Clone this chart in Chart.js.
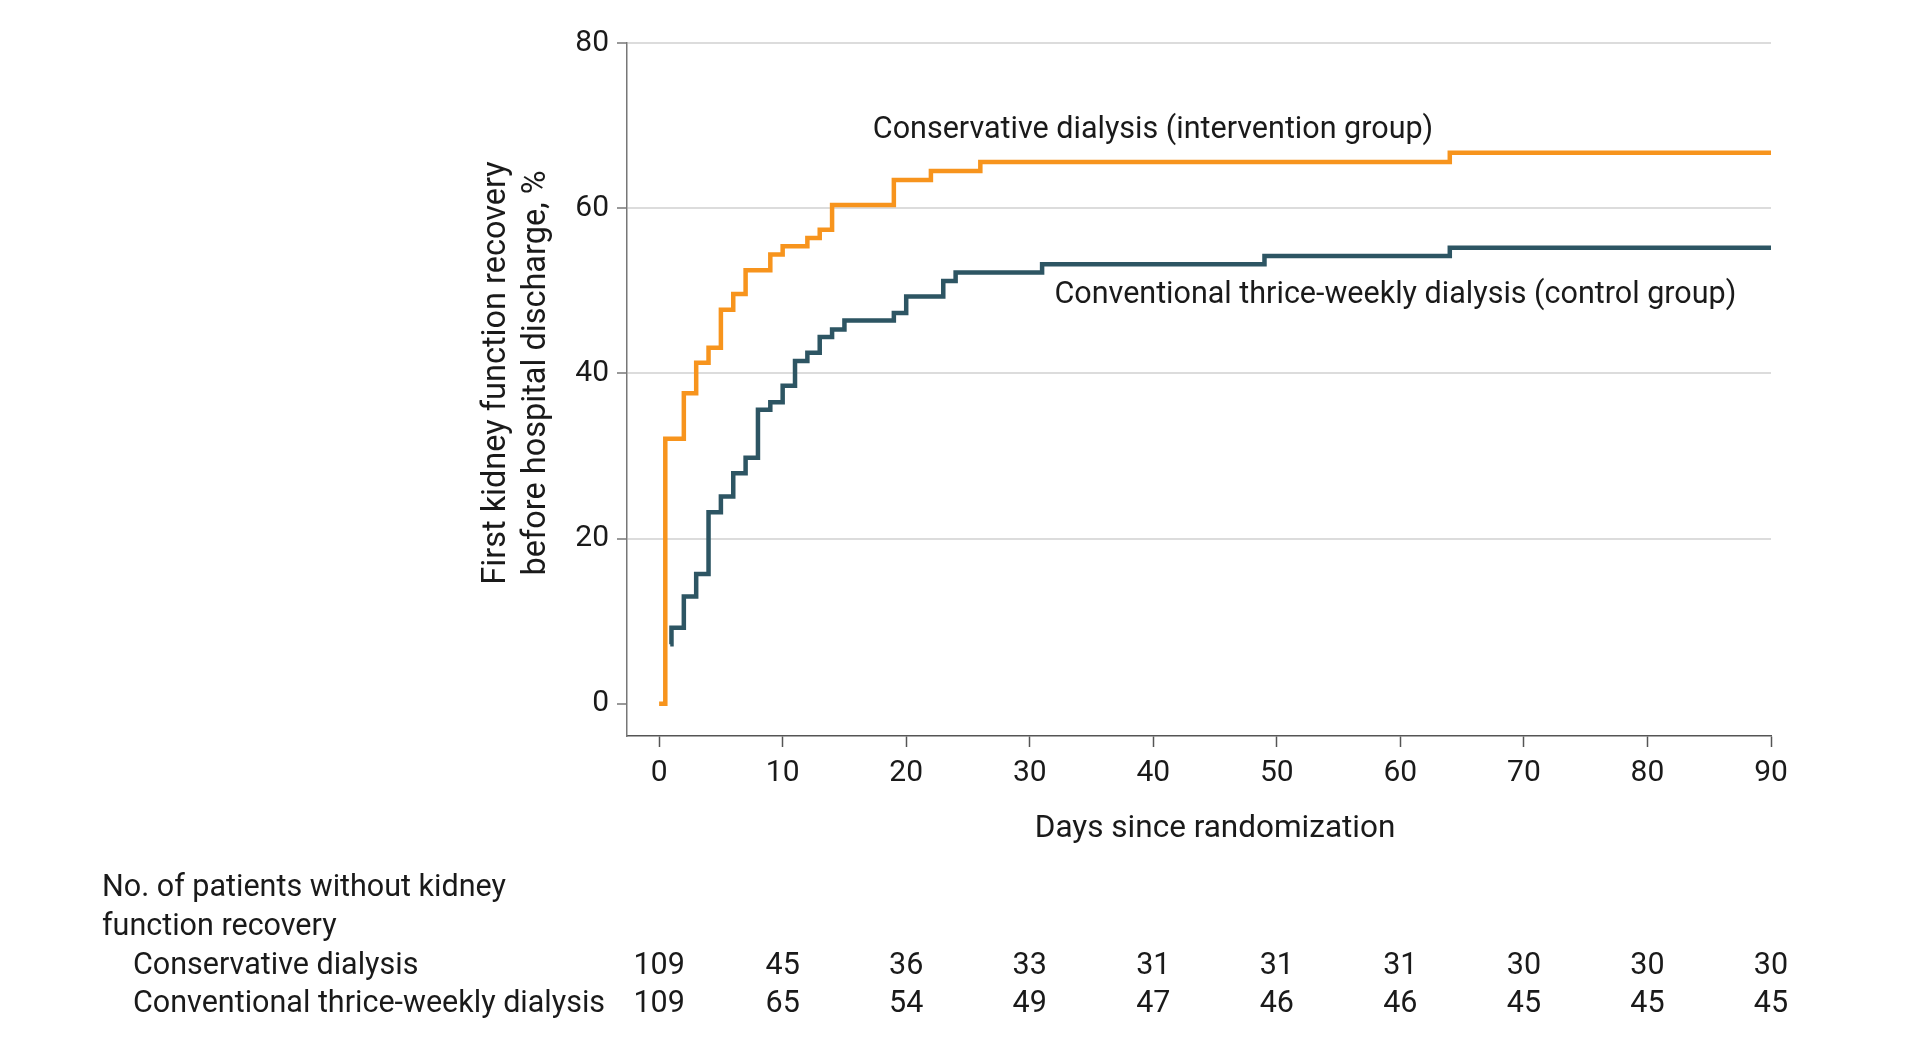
<!DOCTYPE html>
<html>
<head>
<meta charset="utf-8">
<script src="https://cdn.jsdelivr.net/npm/chart.js@4.4.1/dist/chart.umd.min.js"></script>
<style>
  html, body { margin: 0; padding: 0; background: #fff; }
  canvas { display: block; }
</style>
</head>
<body>
<canvas id="km" width="1920" height="1058"></canvas>
<script>
// Kaplan-Meier style cumulative recovery
const consDays = [0, 0.5, 2, 3, 4, 5, 6, 7, 9, 10, 12, 13, 14, 19, 22, 26, 64, 90];
const consPct  = [0, 32.1, 37.6, 41.3, 43.1, 47.7, 49.6, 52.5, 54.4, 55.4, 56.4, 57.4, 60.4, 63.4, 64.5, 65.6, 66.7, 66.7];

const convDays = [0.9, 1, 2, 3, 4, 5, 6, 7, 8, 9, 10, 11, 12, 13, 14, 15, 19, 20, 23, 24, 31, 49, 64, 90];
const convPct  = [7.2, 9.2, 13.0, 15.7, 23.2, 25.1, 27.9, 29.8, 35.6, 36.5, 38.5, 41.5, 42.5, 44.4, 45.3, 46.4, 47.3, 49.3, 51.2, 52.2, 53.2, 54.2, 55.2, 55.2];

const xTicks = [0, 10, 20, 30, 40, 50, 60, 70, 80, 90];
const yTicks = [0, 20, 40, 60, 80];

// number at risk table
const riskDays = [0, 10, 20, 30, 40, 50, 60, 70, 80, 90];
const riskCons = [109, 45, 36, 33, 31, 31, 31, 30, 30, 30];
const riskConv = [109, 65, 54, 49, 47, 46, 46, 45, 45, 45];

const FONT = 'Roboto, "Open Sans", sans-serif';
const TEXT = '#1a1a1a';
const ORANGE = '#f7941d';
const TEAL = '#2d5563';

const toPts = (xs, ys) => xs.map((d, i) => ({ x: d, y: ys[i] }));

const extras = {
  id: 'extras',
  afterDraw(chart) {
    const { ctx, scales: { x, y } } = chart;
    ctx.save();
    ctx.fillStyle = TEXT;
    ctx.textBaseline = 'middle';

    // curve labels
    ctx.font = '30.5px ' + FONT;
    ctx.textAlign = 'left';
    ctx.fillText('Conservative dialysis (intervention group)', x.getPixelForValue(17.3), y.getPixelForValue(69.4));
    ctx.fillText('Conventional thrice-weekly dialysis (control group)', x.getPixelForValue(32), y.getPixelForValue(49.5));

    // axis titles
    ctx.font = '31.5px ' + FONT;
    ctx.textAlign = 'center';
    ctx.fillText('Days since randomization', x.getPixelForValue(45), 829);

    ctx.save();
    ctx.translate(517, 373);
    ctx.rotate(-Math.PI / 2);
    ctx.font = '32.5px ' + FONT;
    ctx.fillText('First kidney function recovery', 0, -20);
    ctx.fillText('before hospital discharge, %', 0, 20);
    ctx.restore();

    // risk table
    ctx.font = '30.5px ' + FONT;
    ctx.textAlign = 'left';
    ctx.fillText('No. of patients without kidney', 102, 888);
    ctx.fillText('function recovery', 102, 927);
    ctx.fillText('Conservative dialysis', 133, 966);
    ctx.fillText('Conventional thrice-weekly dialysis', 133, 1004);
    ctx.textAlign = 'center';
    riskDays.forEach((d, i) => {
      const px = x.getPixelForValue(d);
      ctx.fillText(String(riskCons[i]), px, 966);
      ctx.fillText(String(riskConv[i]), px, 1004);
    });
    ctx.restore();
  }
};

new Chart(document.getElementById('km'), {
  type: 'line',
  data: {
    datasets: [
      {
        label: 'Conservative dialysis',
        data: toPts(consDays, consPct),
        borderColor: ORANGE,
        borderWidth: 4.5,
        stepped: true,
        pointRadius: 0,
        fill: false,
        borderJoinStyle: 'miter',
        borderCapStyle: 'butt'
      },
      {
        label: 'Conventional thrice-weekly dialysis',
        data: toPts(convDays, convPct),
        borderColor: TEAL,
        borderWidth: 4.5,
        stepped: true,
        pointRadius: 0,
        fill: false,
        borderJoinStyle: 'miter',
        borderCapStyle: 'butt'
      }
    ]
  },
  options: {
    responsive: false,
    animation: false,
    devicePixelRatio: 1,
    layout: { padding: { left: 0, top: 43, right: 149, bottom: 260 } },
    plugins: { legend: { display: false }, tooltip: { enabled: false } },
    scales: {
      x: {
        type: 'linear',
        min: -2.6,
        max: 90,
        afterBuildTicks: s => { s.ticks = xTicks.map(v => ({ value: v })); },
        afterFit: s => { s.height = 62; },
        ticks: { font: { family: FONT, size: 30 }, color: TEXT, padding: 8, maxRotation: 0, autoSkip: false },
        grid: { drawOnChartArea: false, drawTicks: true, tickLength: 11, tickColor: '#555', tickWidth: 1.5 },
        border: { color: '#555', width: 1.5 }
      },
      y: {
        min: -3.9,
        max: 80,
        afterBuildTicks: s => { s.ticks = yTicks.map(v => ({ value: v })); },
        afterFit: s => { s.width = 627; },
        ticks: { font: { family: FONT, size: 30 }, color: TEXT, padding: 8 },
        grid: {
          color: c => (c.tick && c.tick.value === 0) ? 'rgba(0,0,0,0)' : '#dcdcdc',
          lineWidth: 2,
          tickLength: 10,
          tickColor: '#777',
          tickWidth: 1.5
        },
        border: { color: '#777', width: 1.5 }
      }
    }
  },
  plugins: [extras]
});
</script>
</body>
</html>
